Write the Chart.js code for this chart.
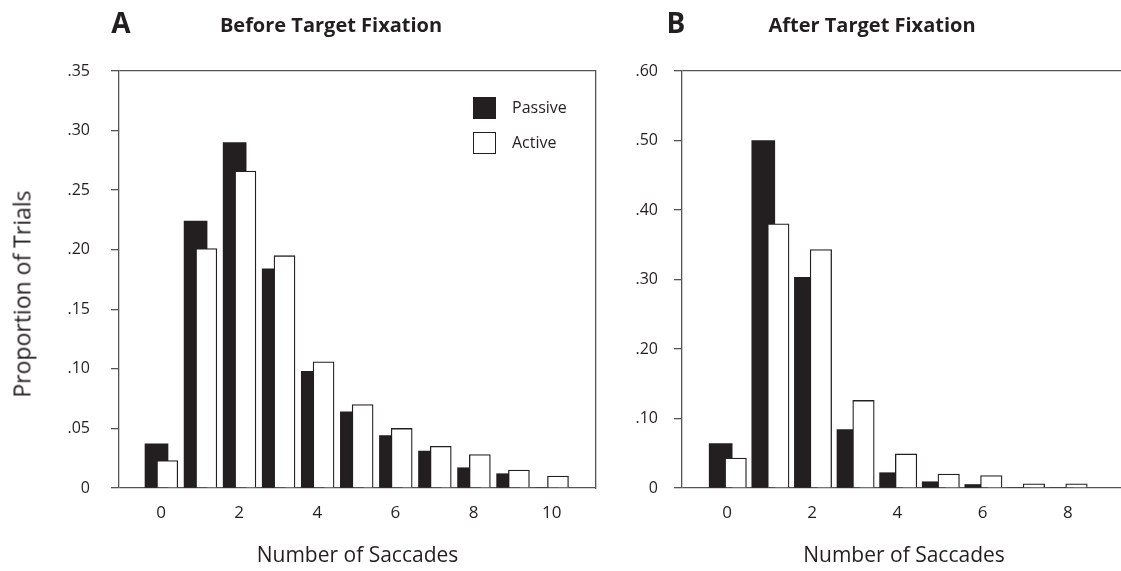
<!DOCTYPE html>
<html>
<head>
<meta charset="utf-8">
<script src="https://cdn.jsdelivr.net/npm/chart.js@4.4.1/dist/chart.umd.min.js"></script>
<style>
  body { margin: 0; width: 1121px; height: 571px; overflow: hidden; position: relative; background: #fff; font-family: "Open Sans", sans-serif; color: #231f20; }
  canvas { position: absolute; top: 0; }
  #chartA { left: 0; }
  #chartB { left: 600px; }
  .lbl { position: absolute; white-space: nowrap; transform: translateX(-50%); font-weight: bold; }
  .panel { font-size: 28px; line-height: 28px; top: 8px; }
  .ttl { font-size: 20px; line-height: 20px; top: 15px; }
  .ytitle { position: absolute; left: 22px; top: 294px; white-space: nowrap; font-size: 23px; line-height: 23px; transform: translate(-50%, -50%) rotate(-90deg); }
  .legend { position: absolute; left: 473px; top: 97px; font-size: 16px; }
  .legend div { position: relative; height: 35px; }
  .legend span.box { position: absolute; left: 0; width: 23px; height: 22px; box-sizing: border-box; }
  .legend span.txt { position: absolute; left: 39px; top: 2px; line-height: 16px; }
</style>
</head>
<body>
<canvas id="chartA" width="600" height="571"></canvas>
<canvas id="chartB" width="526" height="571"></canvas>

<div class="lbl panel" style="left:121px">A</div>
<div class="lbl ttl" style="left:331px">Before Target Fixation</div>
<div class="lbl panel" style="left:676px">B</div>
<div class="lbl ttl" style="left:872px">After Target Fixation</div>
<div class="ytitle">Proportion of Trials</div>

<div class="legend">
  <div><span class="box" style="background:#231f20"></span><span class="txt">Passive</span></div>
  <div><span class="box" style="background:#fff;border:1.3px solid #231f20"></span><span class="txt">Active</span></div>
</div>

<script>
// Panel A - before target fixation
const categoriesA = [0, 1, 2, 3, 4, 5, 6, 7, 8, 9, 10];
const passiveA = [0.037, 0.224, 0.290, 0.184, 0.098, 0.064, 0.044, 0.031, 0.017, 0.012, 0];
const activeA = [0.023, 0.201, 0.266, 0.195, 0.106, 0.070, 0.050, 0.035, 0.028, 0.015, 0.010];
const yTickLabelsA = ['0', '.05', '.10', '.15', '.20', '.25', '.30', '.35'];

// Panel B - after target fixation
const categoriesB = [0, 1, 2, 3, 4, 5, 6, 7, 8];
const passiveB = [0.064, 0.500, 0.303, 0.084, 0.022, 0.009, 0.005, 0, 0];
const activeB = [0.043, 0.380, 0.343, 0.126, 0.049, 0.020, 0.018, 0.006, 0.006];
const yTickLabelsB = ['0', '.10', '.20', '.30', '.40', '.50', '.60'];

const ink = '#231f20';
const lineCol = '#555';
const fontFamily = '"Open Sans", sans-serif';

function makePanel(id, p) {
  const ctx = document.getElementById(id).getContext('2d');
  const toPoints = (vals) => p.categories.map((c, i) => ({ x: c, y: vals[i] }));

  const scales = {
    x: {
      type: 'linear',
      position: 'bottom',
      offset: false,
      min: p.xMin,
      max: p.xMax,
      grid: { display: false, drawTicks: false },
      border: { display: false },
      ticks: {
        stepSize: 2,
        includeBounds: false,
        padding: 15,
        maxRotation: 0,
        color: ink,
        font: { family: fontFamily, size: 17 },
        callback: v => String(v)
      },
      title: {
        display: true,
        text: 'Number of Saccades',
        color: ink,
        font: { family: fontFamily, size: 21 },
        padding: { top: 0, bottom: 2 }
      },
      afterFit: s => { s.height = 83; }
    },
    // hidden axes that shift the two series inside each category
    xp: { type: 'linear', display: false, offset: false, min: p.xMin + p.shiftP, max: p.xMax + p.shiftP },
    xa: { type: 'linear', display: false, offset: false, min: p.xMin + p.shiftA, max: p.xMax + p.shiftA },
    y: {
      min: 0,
      max: p.yMax,
      grid: {
        color: c => (c.index === 0 || c.index === c.scale.ticks.length - 1) ? lineCol : 'rgba(0,0,0,0)',
        tickColor: lineCol,
        tickLength: 8,
        lineWidth: 1.3
      },
      border: { color: lineCol, width: 1.3 },
      ticks: {
        stepSize: p.yStep,
        padding: p.yPad,
        color: ink,
        font: { family: fontFamily, size: 16 },
        callback: (v, i) => p.yLabels[i]
      },
      afterFit: s => { s.width = p.yWidth; }
    }
  };

  if (p.rightBorder) {
    scales.y2 = {
      type: 'linear',
      position: 'right',
      grid: { display: false },
      ticks: { display: false },
      border: { color: lineCol, width: 1.3 },
      afterFit: s => { s.width = 0; }
    };
  }

  new Chart(ctx, {
    type: 'bar',
    data: {
      datasets: [{
        label: 'Passive',
        data: toPoints(p.passive),
        xAxisID: 'xp',
        backgroundColor: ink,
        borderWidth: 0,
        barThickness: 23,
        grouped: false,
        order: 2
      }, {
        label: 'Active',
        data: toPoints(p.active),
        xAxisID: 'xa',
        backgroundColor: '#ffffff',
        borderColor: ink,
        borderWidth: 1.3,
        barThickness: p.activeWidth,
        grouped: false,
        order: 1
      }]
    },
    options: {
      responsive: false,
      animation: false,
      layout: { padding: { top: 71, right: p.padRight, left: 0, bottom: 0 } },
      plugins: { legend: { display: false }, tooltip: { enabled: false } },
      scales: scales
    }
  });
}

makePanel('chartA', {
  categories: categoriesA, passive: passiveA, active: activeA,
  xMin: -1.075, xMax: 11.134, shiftP: 0.115, shiftA: -0.161,
  yMax: 0.35, yStep: 0.05, yLabels: yTickLabelsA, yPad: 21, yWidth: 119,
  rightBorder: true, padRight: 4, activeWidth: 21
});

makePanel('chartB', {
  categories: categoriesB, passive: passiveB, active: activeB,
  xMin: -1.056, xMax: 9.366, shiftP: 0.148, shiftA: -0.204,
  yMax: 0.60, yStep: 0.10, yLabels: yTickLabelsB, yPad: 16, yWidth: 82,
  rightBorder: false, padRight: 0, activeWidth: 21.5
});
</script>
</body>
</html>
